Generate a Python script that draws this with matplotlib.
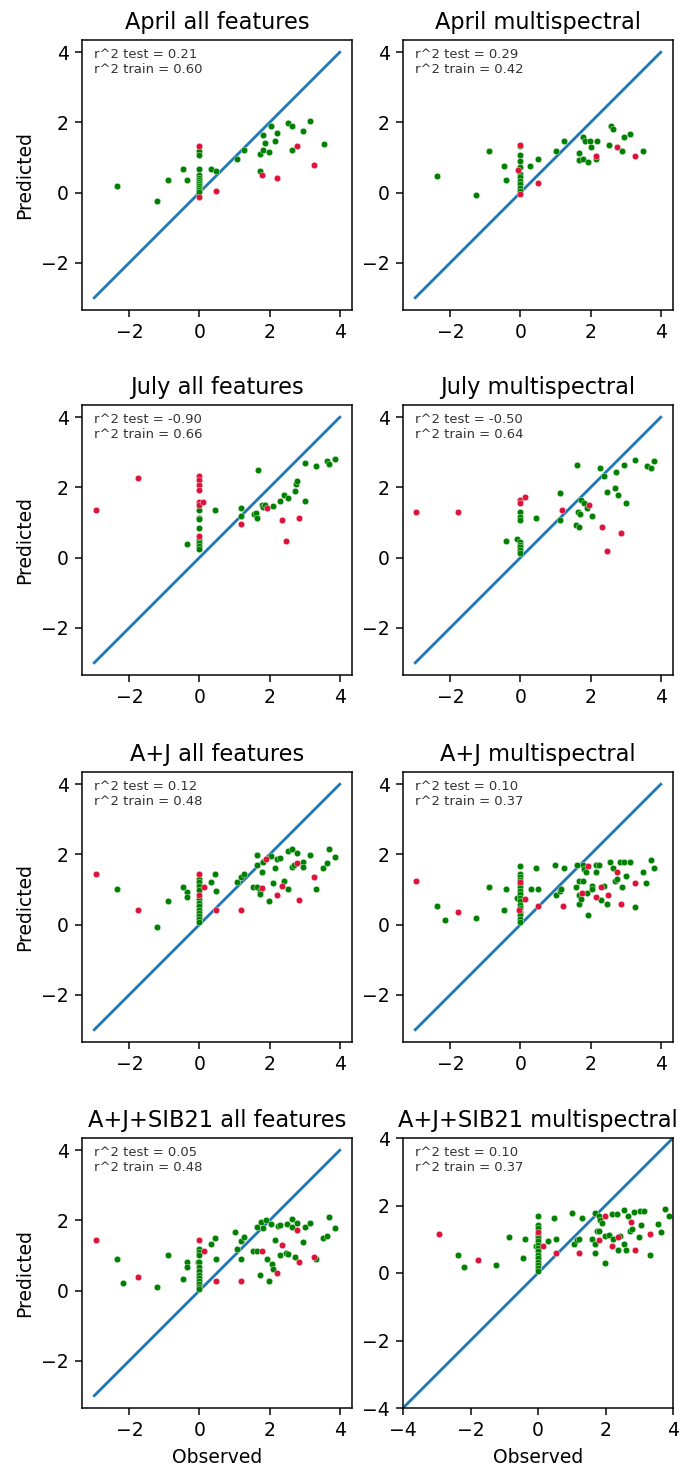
import matplotlib.pyplot as plt

# observed vs predicted, train (green) and test (red) points per model

apr_all_train_x = [-2.35, -1.21, -0.89, -0.46, -0.36,
                   0, 0, 0, 0, 0, 0, 0, 0, 0, 0, 0, 0,
                   0.32, 0.48, 1.06, 1.28, 1.72, 1.72, 1.82, 1.82, 1.88, 1.98,
                   2.04, 2.14, 2.20, 2.52, 2.63, 2.63, 2.95, 3.16, 3.54]
apr_all_train_y = [0.20, -0.24, 0.35, 0.68, 0.35,
                   1.18, 1.06, 0.68, 0.49, 0.42, 0.36, 0.30, 0.24, 0.18, 0.12, 0.06, 0.02,
                   0.68, 0.62, 0.95, 1.21, 1.10, 0.62, 1.21, 1.65, 1.42, 1.16,
                   1.91, 1.48, 1.69, 1.97, 1.91, 1.21, 1.75, 2.03, 1.38]
apr_all_test_x = [0, 0, 0.48, 1.77, 2.20, 2.79, 3.26]
apr_all_test_y = [1.33, -0.13, 0.03, 0.51, 0.41, 1.32, 0.78]

apr_ms_train_x = [-2.38, -1.26, -0.89, -0.46, -0.42,
                  0, 0, 0, 0, 0, 0, 0, 0, 0, 0,
                  0.28, 0.50, 1.02, 1.24, 1.67, 1.67, 1.77, 1.77, 1.84, 1.94,
                  2.00, 1.98, 2.17, 2.14, 2.52, 2.58, 2.64, 2.90, 2.96, 3.12, 3.49]
apr_ms_train_y = [0.48, -0.06, 1.19, 0.75, 0.37,
                  1.32, 1.06, 0.90, 0.72, 0.53, 0.43, 0.33, 0.23, 0.14, 0.05,
                  0.75, 0.97, 1.19, 1.47, 1.13, 0.92, 0.96, 1.57, 1.47, 0.86,
                  1.30, 1.47, 1.47, 0.97, 1.35, 1.90, 1.80, 1.19, 1.57, 1.68, 1.19]
apr_ms_test_x = [0, -0.06, 0, 0.50, 2.16, 2.74, 3.27]
apr_ms_test_y = [1.35, 0.63, -0.05, 0.26, 1.03, 1.30, 1.03]

jul_all_train_x = [-0.36,
                   0, 0, 0, 0, 0, 0, 0, 0,
                   0.44, 1.19, 1.19, 1.67, 1.56, 1.62, 1.65, 1.77, 1.82, 1.86,
                   2.10, 2.31, 2.41, 2.52, 2.73, 2.74, 2.79, 3.01, 3.01, 3.32,
                   3.64, 3.69, 3.86]
jul_all_train_y = [0.38,
                   1.36, 1.14, 1.09, 0.85, 0.51, 0.41, 0.32, 0.25,
                   1.35, 1.41, 1.19, 2.49, 1.23, 1.28, 1.14, 1.49, 1.45, 1.50,
                   1.47, 1.62, 1.78, 1.69, 1.89, 2.10, 2.17, 1.62, 2.71, 2.60,
                   2.76, 2.68, 2.81]
jul_all_test_x = [-2.94, -1.75, 0, 0, 0, 0, 0, 0, 0.11, 0, 1.19, 1.94, 2.35, 2.48, 2.85]
jul_all_test_y = [1.36, 2.28, 2.32, 2.20, 2.07, 1.94, 1.57, 1.49, 1.57, 0.61, 0.97, 1.40, 1.08, 0.48, 1.14]

jul_ms_train_x = [-0.42, -0.09,
                  0, 0, 0, 0, 0, 0, 0, 0,
                  0.44, 1.14, 1.14, 1.62, 1.57, 1.66, 1.65, 1.71, 1.74, 1.81,
                  1.91, 2.05, 2.26, 2.38, 2.47, 2.69, 2.73, 2.79, 2.96, 3.01,
                  3.28, 3.60, 3.71, 3.81]
jul_ms_train_y = [0.48, 0.54,
                  1.30, 1.16, 1.07, 0.43, 0.36, 0.30, 0.22, 0.14,
                  1.14, 1.84, 1.07, 2.65, 0.93, 0.87, 1.30, 1.23, 1.65, 1.55,
                  1.41, 1.19, 2.54, 2.32, 1.88, 1.99, 2.43, 1.78, 2.64, 1.56,
                  2.77, 2.61, 2.56, 2.76]
jul_ms_test_x = [-2.97, -1.79, 0, 0, 0.12, 1.18, 1.95, 2.32, 2.48, 2.86]
jul_ms_test_y = [1.29, 1.29, 1.64, 1.55, 1.74, 1.35, 1.50, 0.87, 0.20, 0.69]

aj_all_train_x = [-2.35, -1.21, -0.89, -0.46, -0.36, -0.36,
                  0, 0, 0, 0, 0, 0, 0, 0, 0, 0, 0, 0,
                  0.32, 0.44, 0.48, 1.06, 1.18, 1.28, 1.54, 1.65, 1.65, 1.65,
                  1.72, 1.72, 1.77, 1.82, 1.98, 2.04, 2.14, 2.10, 2.20, 2.31,
                  2.41, 2.52, 2.52, 2.63, 2.63, 2.79, 2.69, 2.95, 2.95, 3.16,
                  3.32, 3.53, 3.64, 3.69, 3.86]
aj_all_train_y = [1.01, -0.08, 0.68, 1.08, 0.92, 0.79,
                  1.30, 1.21, 1.11, 0.98, 0.72, 0.62, 0.52, 0.42, 0.33, 0.24, 0.15, 0.06,
                  1.22, 1.45, 0.96, 1.22, 1.35, 1.45, 1.08, 1.69, 1.98, 1.08,
                  0.96, 0.87, 1.51, 1.78, 0.68, 1.95, 1.62, 1.18, 1.88, 1.91,
                  1.25, 1.01, 2.10, 2.15, 1.64, 2.04, 1.69, 1.78, 1.64, 1.98,
                  1.01, 1.62, 1.76, 2.15, 1.93]
aj_all_test_x = [-2.94, -1.75, 0, 0, 0.13, 0.48, 1.19, 1.77, 1.89, 2.20, 2.36, 2.79, 2.84, 3.26]
aj_all_test_y = [1.45, 0.41, 1.45, 0.84, 1.08, 0.41, 0.41, 1.03, 1.88, 0.85, 1.11, 1.76, 0.69, 1.35]

aj_ms_train_x = [-2.38, -2.16, -1.26, -0.89, -0.46, -0.42, -0.09,
                 0, 0, 0, 0, 0, 0, 0, 0, 0, 0, 0, 0, 0, 0, 0, 0,
                 0.29, 0.44, 0.50, 0.98, 1.02, 1.12, 1.15, 1.24, 1.57, 1.62,
                 1.67, 1.67, 1.67, 1.72, 1.77, 1.77, 1.81, 1.86, 1.91, 1.94,
                 2.05, 2.05, 2.14, 2.16, 2.24, 2.30, 2.38, 2.48, 2.54, 2.65,
                 2.69, 2.76, 2.83, 2.90, 2.96, 3.01, 3.12, 3.28, 3.49, 3.59,
                 3.71, 3.81]
aj_ms_train_y = [0.53, 0.14, 0.19, 1.08, 0.41, 1.01, 0.75,
                 1.67, 1.43, 1.35, 1.27, 1.16, 1.06, 0.96, 0.86, 0.76, 0.66, 0.56, 0.46, 0.36, 0.26, 0.16, 0.06,
                 1.01, 1.62, 1.01, 1.71, 0.85, 0.96, 1.01, 1.62, 1.08, 1.71,
                 1.23, 0.85, 0.58, 0.72, 1.23, 1.69, 1.59, 1.49, 0.89, 0.26,
                 1.11, 1.01, 1.71, 1.49, 1.71, 0.69, 1.11, 0.58, 1.78, 1.62,
                 1.23, 1.30, 1.78, 1.06, 1.78, 1.38, 1.78, 0.50, 1.49, 1.18,
                 1.83, 1.62]
aj_ms_test_x = [-2.97, -1.79, 0, -0.04, 0.13, 0.50, 1.20, 1.76, 1.94, 2.16, 2.30, 2.49, 2.74, 2.86, 3.27]
aj_ms_test_y = [1.23, 0.36, 1.21, 0.41, 0.74, 0.53, 0.53, 0.89, 1.67, 0.79, 1.06, 0.84, 1.49, 0.58, 1.18]

ajs_all_train_x = [-2.35, -2.18, -1.21, -0.89, -0.46, -0.36, -0.36, -0.04,
                   0, 0, 0, 0, 0, 0, 0, 0, 0, 0, 0, 0,
                   0.32, 0.44, 0.48, 1.02, 1.06, 1.19, 1.19, 1.28, 1.54, 1.65,
                   1.65, 1.72, 1.75, 1.82, 1.89, 1.94, 1.98, 2.04, 2.07, 2.10,
                   2.14, 2.25, 2.31, 2.31, 2.46, 2.52, 2.50, 2.63, 2.63, 2.72,
                   2.79, 2.95, 3.01, 3.16, 3.32, 3.53, 3.64, 3.69, 3.86]
ajs_all_train_y = [0.91, 0.22, 0.10, 1.02, 0.32, 0.81, 0.67, 0.81,
                   1.19, 1.10, 1.00, 0.81, 0.67, 0.55, 0.45, 0.36, 0.27, 0.18, 0.09, 0.03,
                   1.34, 1.51, 0.91, 1.67, 1.19, 0.91, 1.40, 1.53, 1.13, 1.13,
                   1.81, 0.45, 1.96, 1.77, 2.01, 0.91, 0.27, 1.91, 0.76, 0.60,
                   1.45, 1.84, 1.88, 1.02, 1.08, 1.05, 1.89, 2.03, 1.80, 0.97,
                   1.93, 1.39, 1.81, 1.93, 0.91, 1.51, 1.56, 2.10, 1.78]
ajs_all_test_x = [-2.94, -1.75, 0, 0.13, 0.48, 1.19, 1.77, 2.20, 2.35, 2.79, 2.84, 3.26]
ajs_all_test_y = [1.45, 0.38, 1.45, 1.12, 0.27, 0.27, 1.13, 0.50, 1.29, 1.72, 0.81, 0.97]

ajs_ms_train_x = [-2.37, -2.20, -1.25, -0.86, -0.43, -0.38, -0.07,
                  0, 0, 0, 0, 0, 0, 0, 0, 0, 0, 0, 0, 0, 0, 0,
                  0.31, 0.47, 0.52, 1.02, 1.07, 1.17, 1.20, 1.31, 1.59, 1.70,
                  1.74, 1.70, 1.70, 1.80, 1.80, 1.84, 1.89, 1.99, 1.99, 2.10,
                  2.19, 2.21, 2.34, 2.36, 2.44, 2.54, 2.61, 2.56, 2.66, 2.73,
                  2.78, 2.83, 2.98, 3.03, 3.05, 3.15, 3.33, 3.55, 3.65, 3.77,
                  3.88]
ajs_ms_train_y = [0.52, 0.17, 0.23, 1.07, 0.45, 1.01, 0.80,
                  1.69, 1.41, 1.34, 1.14, 1.04, 0.94, 0.84, 0.74, 0.64, 0.54, 0.44, 0.34, 0.24, 0.14, 0.05,
                  0.95, 1.64, 1.01, 1.79, 0.85, 0.97, 1.01, 1.64, 1.01, 1.79,
                  1.24, 0.85, 0.58, 1.69, 1.24, 1.57, 1.49, 0.30, 1.09, 1.14,
                  1.74, 1.01, 1.74, 0.68, 1.09, 0.85, 0.68, 1.87, 1.69, 1.24,
                  1.31, 1.81, 1.06, 1.84, 1.41, 1.84, 0.52, 1.46, 1.22, 1.91,
                  1.69]
ajs_ms_test_x = [-2.93, -1.77, 0, 0.14, 0.52, 1.21, 1.80, 1.99, 2.20, 2.36, 2.76, 2.86, 3.33]
ajs_ms_test_y = [1.17, 0.40, 1.21, 0.80, 0.58, 0.58, 0.97, 1.69, 0.80, 1.06, 1.51, 0.68, 1.17]

titles = ["April all features", "April multispectral",
          "July all features", "July multispectral",
          "A+J all features", "A+J multispectral",
          "A+J+SIB21 all features", "A+J+SIB21 multispectral"]
r2_test = [0.21, 0.29, -0.90, -0.50, 0.12, 0.10, 0.05, 0.10]
r2_train = [0.60, 0.42, 0.66, 0.64, 0.48, 0.37, 0.48, 0.37]

panels = [
    (apr_all_train_x, apr_all_train_y, apr_all_test_x, apr_all_test_y),
    (apr_ms_train_x, apr_ms_train_y, apr_ms_test_x, apr_ms_test_y),
    (jul_all_train_x, jul_all_train_y, jul_all_test_x, jul_all_test_y),
    (jul_ms_train_x, jul_ms_train_y, jul_ms_test_x, jul_ms_test_y),
    (aj_all_train_x, aj_all_train_y, aj_all_test_x, aj_all_test_y),
    (aj_ms_train_x, aj_ms_train_y, aj_ms_test_x, aj_ms_test_y),
    (ajs_all_train_x, ajs_all_train_y, ajs_all_test_x, ajs_all_test_y),
    (ajs_ms_train_x, ajs_ms_train_y, ajs_ms_test_x, ajs_ms_test_y),
]

W, H, DPI = 680, 1467, 135
fig = plt.figure(figsize=(W / DPI, H / DPI), dpi=DPI)

col_left = [82, 403]
row_top = [40, 405, 772, 1138]
box = 270

for i, (trx, tr_y, tex, te_y) in enumerate(panels):
    r, c = divmod(i, 2)
    ax = fig.add_axes([col_left[c] / W, 1 - (row_top[r] + box) / H, box / W, box / H])
    last = i == len(panels) - 1
    lo, hi = (-4, 4) if last else (-3, 4)
    ax.plot([lo, hi], [lo, hi], color="#1f77b4", lw=1.5, zorder=1)
    ax.scatter(trx, tr_y, s=12, color="green", edgecolor="white", linewidth=0.2, zorder=2)
    ax.scatter(tex, te_y, s=12, color="crimson", edgecolor="white", linewidth=0.2, zorder=3)
    if last:
        ax.set_xlim(-4, 4)
        ax.set_ylim(-4, 4)
    ax.text(0.045, 0.97, f"r^2 test = {r2_test[i]:.2f}\nr^2 train = {r2_train[i]:.2f}",
            transform=ax.transAxes, fontsize=7, va="top", ha="left", color="#333333")
    ax.set_title(titles[i])
    if c == 0:
        ax.set_ylabel("Predicted")
    if r == 3:
        ax.set_xlabel("Observed")

fig.savefig("out.png", dpi=DPI)
